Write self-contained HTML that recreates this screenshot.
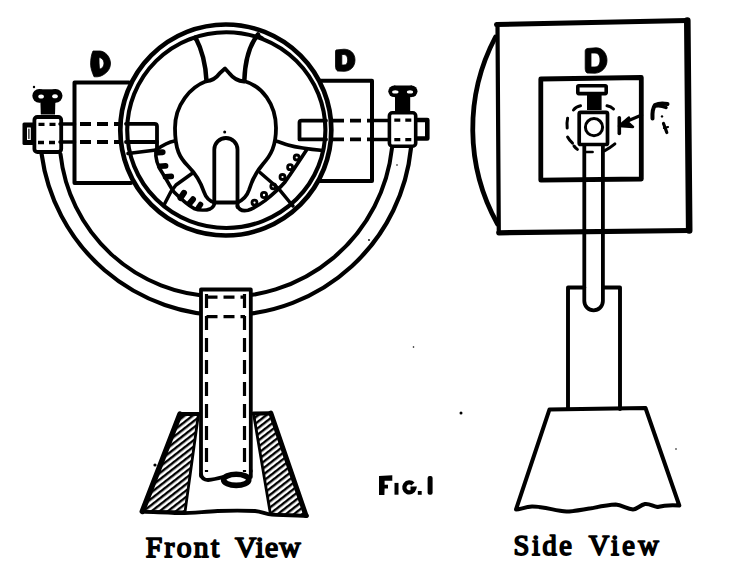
<!DOCTYPE html>
<html><head><meta charset="utf-8"><title>Fig 1</title>
<style>
html,body{margin:0;padding:0;background:#fff;width:752px;height:576px;overflow:hidden;}
svg{display:block;}
text{font-family:"Liberation Serif",serif;font-weight:normal;fill:#000;}
</style></head>
<body>
<svg width="752" height="576" viewBox="0 0 752 576">
<defs>
<pattern id="hatch" patternUnits="userSpaceOnUse" width="5" height="5" patternTransform="rotate(-38)">
<rect width="5" height="5" fill="#fff"/>
<rect width="5" height="2.4" fill="#000"/>
</pattern>
</defs>
<g fill="none" stroke="#000" stroke-width="4" stroke-linecap="round" stroke-linejoin="round">

<!-- ===== FRONT VIEW ===== -->
<!-- yoke arcs -->
<path d="M41.6,154 A186,186 0 0 0 411,148" stroke-width="4.2"/>
<path d="M60.5,154 A159.7,159.7 0 0 0 215,296.3 L215,296.6 A167,167 0 0 0 392,148" stroke-width="4"/>

<!-- boxes D -->
<path d="M129,82.6 L74.5,82.6 L74.5,183 L131,183"/>
<path d="M320,80.7 L372,80.7 L372,181 L319,181"/>

<!-- axle solid links -->
<path d="M60,124 H74.5 M60,142 H74.5" stroke-width="3.5"/>
<path d="M372,120.6 H388 M372,139.4 H388" stroke-width="3.5"/>
<!-- axle dashed -->
<g stroke-dasharray="11 6" stroke-linecap="butt" stroke-width="3.8">
<path d="M80,124 H128 M80,142 H128"/>
<path d="M333,120.6 H372 M333,139.4 H372"/>
</g>
<g stroke-dasharray="6 5" stroke-linecap="butt" stroke-width="3.3">
<path d="M38.5,124.4 H57 M38,142.5 H56"/>
<path d="M394.3,120.1 H413 M394.3,139.6 H413"/>
</g>

<!-- left clamp -->
<rect x="34.4" y="117" width="26.8" height="35" rx="3" stroke-width="3.8"/>
<rect x="22.5" y="122.5" width="12" height="22.5" rx="1.5" fill="#000" stroke="none"/>
<rect x="27" y="127.5" width="3.8" height="12.5" fill="#fff" stroke="none"/>
<path d="M28.9,129 V138.5" stroke-width="1.2"/>
<!-- left wing -->
<circle cx="39.2" cy="95.8" r="6.9" fill="#000" stroke="none"/><circle cx="55.6" cy="95.8" r="6.9" fill="#000" stroke="none"/><rect x="39" y="89.3" width="17" height="13" fill="#000" stroke="none"/>
<path d="M40.4,101 H55.4 L55,114.5 H40.8 Z" fill="#000" stroke="none"/>
<ellipse cx="41.1" cy="96.5" rx="2.8" ry="2" fill="#fff" stroke="none"/>
<ellipse cx="55" cy="96.2" rx="2.8" ry="2" fill="#fff" stroke="none"/>
<circle cx="34" cy="87" r="1.2" fill="#000" stroke="none"/>

<!-- right clamp -->
<rect x="389.4" y="112.8" width="26.3" height="33.4" rx="3" stroke-width="3.6"/>
<path d="M417.5,120 H427.3 V138.5 H417.5" stroke-width="4.6"/>
<circle cx="394.1" cy="91.3" r="5.8" fill="#000" stroke="none"/><circle cx="411.7" cy="91.3" r="5.8" fill="#000" stroke="none"/><rect x="394" y="85.5" width="18" height="11.6" fill="#000" stroke="none"/>
<rect x="395" y="96" width="15.2" height="15.5" fill="#000" stroke="none"/>
<ellipse cx="395.3" cy="91.9" rx="3.2" ry="1.6" fill="#fff" stroke="none"/>
<ellipse cx="410" cy="91.9" rx="3.1" ry="1.6" fill="#fff" stroke="none"/>

<!-- ring -->
<circle cx="225.8" cy="130" r="105.5" fill="#fff" stroke-width="4.7"/>
<ellipse cx="226.3" cy="130.1" rx="99.1" ry="97.9" stroke-width="4.1"/>

<!-- inner small rects (axle ends) -->
<path d="M126,123.8 H154.5 Q157,123.8 157,126.3 V150" stroke-width="3.8"/>
<path d="M126,142 H157" stroke-width="3.8"/>
<path d="M326,120.6 H301.5 Q299.5,120.6 299.5,122.6 V139.4 H326" stroke-width="3.8"/>

<!-- stems -->
<path d="M195.5,37.5 C200,46 205.5,60 206.5,81" stroke-width="4.5"/>
<path d="M190,40.5 Q195,37 198,44 L196,37 Z" fill="#000" stroke-width="1.5"/>
<path d="M258,34.5 C251,43 245,58 244.3,81" stroke-width="4.5"/>
<path d="M253,43 Q255,37 263,37.5 L257,34 Z" fill="#000" stroke-width="1.5"/>
<!-- onion top -->
<path d="M206.5,81 C212,81 217,77 220,73 L225,68.5 L229.5,73.5 C233,78 237,81 244,81.5" stroke-width="3.8"/>
<!-- bulb -->
<path d="M206,81.3 C191,87 175,104 175,128 C175,150 180,158 188,166 C196,174 201,183 204,192 C206,198 209,201 214.5,202.5" stroke-width="3.8"/>
<path d="M244,81 C262,86 276,104 276,128 C276,146 271,155 263,164 C256,172 252,180 249,190 C247,196 243,200 237.5,202.5" stroke-width="3.8"/>
<!-- slot -->
<path d="M214.3,203 V149.6 A11.6,11.6 0 0 1 237.5,149.6 V207" stroke-width="3.8"/>
<path d="M214.5,202.5 H237.5" stroke-width="3.8"/>
<circle cx="224.7" cy="132" r="1.5" fill="#000" stroke="none"/>

<!-- left gear -->
<path d="M128,153.5 L156,150 C163,145 168,142 174.5,141" stroke-width="3.6"/>
<path d="M156,149.5 C155,158 158,167 163,174 C167,180 170,187 174,192 C180,198 186,204 194,208.5 C199,210.5 206,210.5 210,209 C213,207.5 214.5,205 214.5,202.5" stroke-width="3.6"/>
<path d="M192,173.5 L176,185 L171,191.5 L164,205" stroke-width="3.5"/>
<g stroke-width="5" stroke-linecap="round">
<path d="M157.5,152.4 L162.6,152.2" stroke-width="6"/>
<path d="M159.8,166.2 L165.6,165.9" stroke-width="5.6"/>
<path d="M165.5,176.8 L171.3,176.4" stroke-width="5.6"/>
<path d="M180.5,198 L184,192.8" stroke-width="6"/>
<path d="M189.5,203.5 L193,199.3" stroke-width="6"/>
<path d="M198.5,207.5 L200.5,204.5" stroke-width="5.5"/>
</g>

<!-- right gear -->
<path d="M276,141 C280,142 284,144 288,145 C295,147 301,148.5 323,150.5" stroke-width="3.6"/>
<path d="M306.5,150 C300,160 292,172 285,182 C279,189 272,195 265,200.6 C259,205 253,208.8 248,210.2 C243,211.2 239,210 237.5,206" stroke-width="3.6"/>
<path d="M260,172.5 L278.8,188.8 L290,202.5 L293,206" stroke-width="3.5"/>
<g stroke-width="2.8">
<circle cx="296.7" cy="157.5" r="2.5"/>
<circle cx="290.1" cy="167.2" r="2.5"/>
<circle cx="282.5" cy="177" r="2.5"/>
<circle cx="273.3" cy="186.3" r="2.5"/>
<circle cx="264" cy="195" r="2.6"/>
<circle cx="254.5" cy="202.6" r="2.5"/>
</g>

<!-- pillar -->
<path d="M201,476 V289.5 H250.8 V471" fill="#fff" stroke-width="3.8"/>
<g stroke-dasharray="14 8" stroke-linecap="butt" stroke-width="3.2">
<path d="M206.5,294 V472" stroke-dashoffset="0"/>
<path d="M244.5,294 V472"/>
</g>
<g stroke-dasharray="11 6" stroke-linecap="butt" stroke-width="3.2">
<path d="M206.5,297.2 H245 M206.5,316.7 H245"/>
</g>

<!-- base hatched -->
<path d="M180,414 L198.5,414 L185,512 L142.3,511.5 Z" fill="url(#hatch)" stroke-width="2.8"/>
<path d="M253.5,413.5 L270.8,413 L306,515.5 L270.5,514.5 Z" fill="url(#hatch)" stroke-width="2.8"/>
<path d="M180,414 L142.3,511.5" stroke-width="5.5"/>
<path d="M270.8,413 L306,515.5" stroke-width="5"/>
<path d="M180,414 H198.5 M253.5,413.5 H270.8" stroke-width="4"/>
<path d="M142.7,511.7 C155,512.5 165,512 175,513 C185,514 200,512 217.7,511 C230,510.5 245,510.5 255,511 C262,511.5 266,514.5 272,514.6 C285,515 295,515.5 307,516" stroke-width="3.8"/>
<!-- pillar bottom / tube end -->
<path d="M201,474 Q202,480 208,480 Q214,479.5 223,477" stroke-width="3.8"/>
<ellipse cx="236.2" cy="479.8" rx="12.6" ry="5.6" stroke-width="5.6"/>
<path d="M250.8,471 V477" stroke-width="3.8"/>

<!-- ===== SIDE VIEW ===== -->
<path d="M496.5,24.6 L687.3,20.6" stroke-width="5"/>
<path d="M687.3,20.6 L689.2,230.5" stroke-width="6.6"/>
<path d="M689.2,230.5 L498.8,232.8" stroke-width="5.2"/>
<path d="M498.8,232.8 L497.5,24.6" stroke-width="4.2"/>
<path d="M495.5,37 A196,196 0 0 0 497.5,224" stroke-width="4.8"/>
<path d="M540.8,79 L641.3,77.5 L641.3,179 L540.8,180.2 Z" stroke-width="4.8"/>

<!-- rod -->
<path d="M584.3,145 V301 A9.3,9.3 0 0 0 602.9,301 V145" stroke-width="3.8"/>
<path d="M586,152 H592.6" stroke-width="2.6"/>

<!-- clamp -->
<rect x="579.2" y="112.3" width="28.3" height="32.2" rx="1.5" fill="#fff" stroke-width="3.7"/>
<circle cx="594" cy="127.2" r="8.6" stroke-width="3"/>
<rect x="577.8" y="85.8" width="28.4" height="7.8" rx="1" stroke-width="3.6"/>
<rect x="587" y="94" width="14.6" height="16" fill="#000" stroke="none"/>
<g stroke-width="3" stroke-linecap="round">
<path d="M573.5,110 Q576,106.5 580.5,105.7"/>
<path d="M607,105.7 Q611,106.5 613.5,109"/>
<path d="M567.6,118.2 Q566.6,123 567.2,128"/>
<path d="M567.6,137 Q569.5,140.5 572.5,143.2"/>
<path d="M574,146 Q575.5,148 577.4,149.4"/>
<path d="M604.4,150.8 Q610,148 614.9,143.9"/>
</g>

<!-- arrow + label -->
<path d="M641.7,115 L624,122.5" stroke-width="3"/>
<path d="M619.3,117.8 V133.5" stroke-width="3.6"/>
<path d="M619,126 L629,117.5 L628,122.5 L633,127 Z" fill="#000" stroke-width="2.5"/>
<path d="M652.5,118.5 Q652,109 655,105 Q660,102.5 667.5,104" stroke-width="4"/>
<path d="M655,106 Q661,105 666,107.5" stroke-width="3.5"/>
<circle cx="662" cy="116.4" r="1.2" fill="#000" stroke="none"/>
<path d="M663.5,123.5 L666.8,132.5" stroke-width="3.2"/>
<path d="M664,128 L668,127" stroke-width="2.2"/>

<!-- pillar side -->
<path d="M568,409 V287.5 H584.3 M602.9,287.5 H620 V409" stroke-width="3.9"/>
<!-- base side -->
<path d="M549.5,409.4 L645.5,408 L679.3,505.5 C672,505 665,505 657.5,507 C652,506 650,503.5 645,504 C640,505 637,509.5 633,509.5 C627,509 622,505 615.7,504.6 C607,505 598,507 591,508.3 C580,510 573,511.5 566.5,511.5 C555,511 545,506.5 532,506.6 C525,507 520,509.5 516,509.5 Z" stroke-width="4"/>
</g>

<!-- specks -->
<g fill="#000">
<circle cx="461" cy="413" r="1.5"/>
<circle cx="413.5" cy="347" r="0.8"/>
<circle cx="155" cy="465" r="1.6"/>
<circle cx="397" cy="165" r="0.8"/>
<circle cx="369" cy="240" r="0.9"/>
<circle cx="676" cy="449" r="0.8"/>
</g>
<!-- letters D -->
<g fill="#000" fill-rule="evenodd" stroke="#000" stroke-width="0.8" stroke-linejoin="round">
<path d="M93,51 L100,51 C105,51.5 110,56 110.5,63 C110.5,69 107,73 102,75.5 C99,77 96,77 94,76.7 C92,72 90.6,68 90.6,64 C90.6,59 91.5,54 93,51 Z M99,57.5 C101.5,57.5 104,60 104,63 C104,66 102,69 99.5,69 C99,65 99,61 99,57.5 Z"/>
<path d="M336,50 L344,49.2 C350,49.2 355,53 355,60 C355,67 350,71.3 344,71.3 L337.5,71 C336,70 335.5,68 335.5,66 L335.5,52 C335.5,51 335.8,50.2 336,50 Z M341.8,54.5 L344,54.5 C346.5,54.5 347.7,57 347.7,60 C347.7,63 346.5,65 344,65 L341.8,65 Z"/>
<path d="M587,48.5 L596,47.8 C603,47.8 607,54 607,60.5 C607,67 602,73 595,73.2 L587,73 C585.5,72 585.2,70 585.2,68 L585.2,51 C585.2,50 586,48.8 587,48.5 Z M591,53 L595,53 C598.5,53 600,56 600,60 C600,64 598.5,67 595,67 L591,67 Z"/>
</g>

<!-- FIG.1 -->
<g fill="#000" stroke="none">
<path d="M379,476 L392.3,475.3 L392.3,480.7 L384.6,480.7 L384.6,484.8 L388,484.8 L388,488.6 L384.6,488.6 L384.4,495.1 L379,495.1 Z"/>
<rect x="394.5" y="482.9" width="4" height="11.8"/>
<path d="M413,484 A5,5 0 1 0 414.2,488.6 L410.5,488.6" fill="none" stroke="#000" stroke-width="4.3" stroke-linecap="butt"/>
<rect x="417.8" y="491" width="3.9" height="3.8"/>
<rect x="427.6" y="476" width="5" height="18.8" rx="2"/>
</g>

<!-- captions -->
<g style="font-weight:normal" stroke="#000" stroke-width="1.75" stroke-linejoin="round">
<text x="145.7" y="556.6" font-size="29.6" textLength="73.5" lengthAdjust="spacing">Front</text>
<text x="235" y="556.6" font-size="29.6" textLength="65.6" lengthAdjust="spacing">View</text>
<text x="513.6" y="554.6" font-size="28.4" textLength="58.3" lengthAdjust="spacing">Side</text>
<text x="588.7" y="554.6" font-size="28.4" textLength="70" lengthAdjust="spacing">View</text>
</g>
</svg>
</body></html>
